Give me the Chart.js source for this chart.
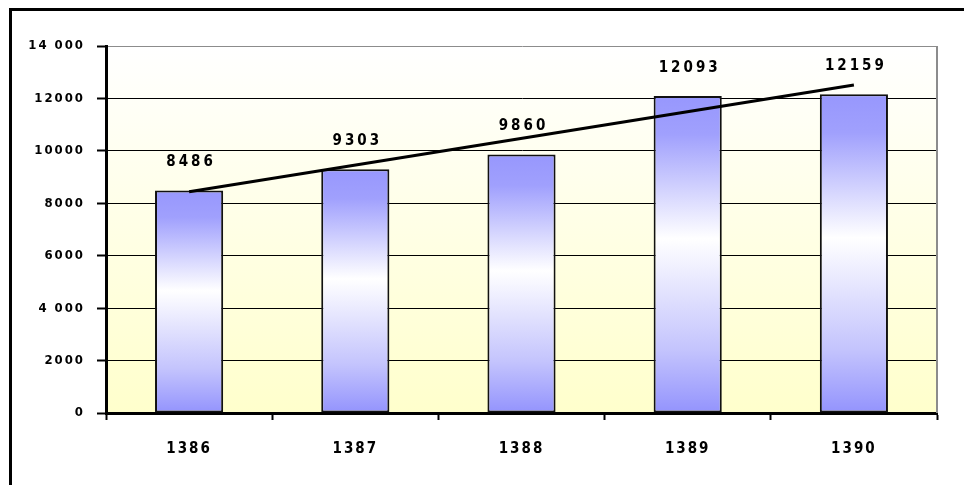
<!DOCTYPE html>
<html>
<head>
<meta charset="utf-8">
<script src="https://cdn.jsdelivr.net/npm/chart.js@4.4.1/dist/chart.umd.min.js"></script>
<style>
  body { margin: 0; background: #fff; }
  #wrap { position: relative; width: 964px; height: 485px; }
</style>
</head>
<body>
<div id="wrap"><canvas id="barChart"></canvas></div>
<script>
// DATA
const years = ["1386", "1387", "1388", "1389", "1390"];
const values = [8486, 9303, 9860, 12093, 12159];
// trend line ends
const trendValues = [8440, null, null, null, 12510];
const yTickLabels = ["0", "2000", "4 000", "6000", "8000", "10000", "12000", "14 000"];

const FONT = "'Liberation Sans Narrow', 'Arial Narrow', 'DejaVu Sans Condensed', sans-serif";

Chart.defaults.font.family = FONT;
Chart.defaults.font.weight = "bold";
Chart.defaults.color = "#000";

// frame, plot background, letter spacing
const backdrop = {
  id: "backdrop",
  beforeDraw(chart) {
    const ctx = chart.ctx;
    const a = chart.chartArea;
    ctx.letterSpacing = "2px";
    ctx.save();
    const g = ctx.createLinearGradient(0, a.top, 0, a.bottom);
    g.addColorStop(0, "#ffffff");
    g.addColorStop(1, "#ffffcc");
    ctx.fillStyle = g;
    ctx.fillRect(a.left, a.top, a.right - a.left, a.bottom - a.top);
    // outer frame (only top and left are visible)
    ctx.strokeStyle = "#000";
    ctx.lineWidth = 3;
    ctx.beginPath();
    ctx.moveTo(10.5, chart.height + 5);
    ctx.lineTo(10.5, 9.5);
    ctx.lineTo(chart.width + 5, 9.5);
    ctx.stroke();
    ctx.restore();
  },
  beforeDatasetsDraw(chart) {
    const ctx = chart.ctx;
    const a = chart.chartArea;
    ctx.save();
    ctx.strokeStyle = "#8c8c8c";
    ctx.lineWidth = 2;
    ctx.beginPath();
    ctx.moveTo(a.right, a.top);
    ctx.lineTo(a.right, a.bottom);
    ctx.stroke();
    ctx.restore();
  },
};

// value labels above the bars
const barLabels = {
  id: "barLabels",
  afterDatasetsDraw(chart) {
    const ctx = chart.ctx;
    const meta = chart.getDatasetMeta(1);
    ctx.save();
    ctx.font = "bold 15px " + FONT;
    ctx.letterSpacing = "3px";
    ctx.fillStyle = "#000";
    ctx.textAlign = "center";
    ctx.textBaseline = "middle";
    meta.data.forEach((bar, i) => {
      ctx.fillText(String(values[i]), bar.x + 2, bar.y - 28);
    });
    ctx.restore();
  },
};

function barGradient(c) {
  const chart = c.chart;
  if (!chart.chartArea || c.raw == null) return "#9999ff";
  const y = chart.scales.y;
  const top = y.getPixelForValue(c.raw);
  const bottom = y.getPixelForValue(0);
  const g = chart.ctx.createLinearGradient(0, top, 0, bottom);
  g.addColorStop(0, "#9797fd");
  g.addColorStop(0.12, "#a0a0fd");
  g.addColorStop(0.45, "#ffffff");
  g.addColorStop(0.8, "#c4c4fd");
  g.addColorStop(1, "#9393fd");
  return g;
}

var barCanvas = document.getElementById("barChart");
var barChart = new Chart(barCanvas, {
  type: "bar",
  data: {
    labels: years,
    datasets: [
      {
        type: "line",
        label: "trend",
        data: trendValues,
        spanGaps: true,
        borderColor: "#000",
        borderWidth: 3,
        pointRadius: 0,
        fill: false,
        order: 0,
      },
      {
        label: "values",
        data: values,
        backgroundColor: barGradient,
        borderColor: "#111",
        borderWidth: 2,
        borderSkipped: false,
        categoryPercentage: 1,
        barPercentage: 0.41,
        order: 1,
      },
    ],
  },
  options: {
    animation: false,
    responsive: true,
    maintainAspectRatio: false,
    devicePixelRatio: 1,
    layout: { padding: { top: 46, right: 27, left: 0, bottom: 0 } },
    plugins: {
      legend: { display: false },
      tooltip: { enabled: false },
    },
    scales: {
      x: {
        offset: true,
        grid: {
          offset: true,
          drawOnChartArea: false,
          tickLength: 7,
          tickColor: "#000",
          tickWidth: 2,
        },
        border: { color: "#000", width: 3 },
        ticks: {
          padding: 20,
          font: { size: 15, weight: "bold" },
          color: "#000",
        },
        afterFit(scale) {
          scale.height = 72;
        },
      },
      y: {
        min: 0,
        max: 14000,
        ticks: {
          stepSize: 2000,
          padding: 12,
          font: { size: 13, weight: "bold" },
          color: "#000",
          callback: (value, index) => yTickLabels[index],
        },
        grid: {
          color: (c) => (c.tick && c.tick.value === 14000 ? "#8c8c8c" : "#000"),
          lineWidth: 1,
          tickLength: 9,
          tickColor: "#000",
          tickWidth: 2,
        },
        border: { color: "#000", width: 3 },
        afterFit(scale) {
          scale.width = 106;
        },
      },
    },
  },
  plugins: [backdrop, barLabels],
});
</script>
</body>
</html>
